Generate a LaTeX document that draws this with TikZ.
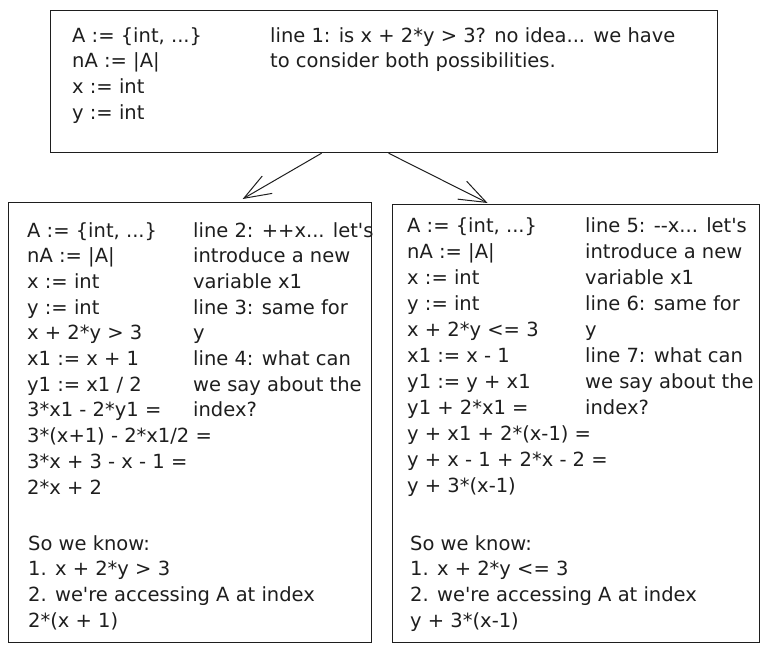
\documentclass[tikz,border=0pt]{standalone}
\usepackage{fontspec}
\newfontfamily\handfont{DejaVu Sans}[Ligatures=TeXOff]
\usetikzlibrary{arrows.meta}
\definecolor{ink}{HTML}{1E1E1E}
\newcommand\ddd{...}

\begin{document}
\begin{tikzpicture}[x=1pt,y=-1pt,
  frame/.style={draw=ink,line width=1.2pt,inner sep=0pt,anchor=north west},
  code/.style={anchor=base west,inner sep=0pt,text=ink,font=\handfont\fontsize{19.5}{24}\selectfont},
  flow/.style={draw=ink,line width=1pt,-{Straight Barb[length=27pt,width=20pt,line width=1pt]}}]
  \useasboundingbox (0,0) rectangle (770,651);
  \def\dy{25.7}
  % the three states
  \node[frame,minimum width=667pt,minimum height=142pt] (top) at (50,10) {};
  \node[frame,minimum width=363pt,minimum height=440pt] (left) at (8,202) {};
  \node[frame,minimum width=367pt,minimum height=438pt] (right) at (392,204) {};
  % top: the initial state
  \foreach \t [count=\n from 0] in {{A := \{int, \ddd\}},{nA := |A|},{x := int},{y := int}}
    \node[code] (top-a\n) at (72,42+\n*\dy) {\t};
  \foreach \t [count=\n from 0] in {{line 1: is x + 2*y > 3? no idea\ddd{} we have},{to consider both possibilities.}}
    \node[code] (top-b\n) at (270,42+\n*\dy) {\t};
  % left: the branch x + 2*y > 3
  \foreach \t [count=\n from 0] in {{A := \{int, \ddd\}},{nA := |A|},{x := int},{y := int},
      {x + 2*y > 3},{x1 := x + 1},{y1 := x1 / 2},{3*x1 - 2*y1 =},{3*(x+1) - 2*x1/2 =},
      {3*x + 3 - x - 1 =},{2*x + 2}}
    \node[code] (left-a\n) at (27,237+\n*\dy) {\t};
  \foreach \t [count=\n from 0] in {{line 2: ++x\ddd{} let's},{introduce a new},{variable x1},
      {line 3: same for},{y},{line 4: what can},{we say about the},{index?}}
    \node[code] (left-b\n) at (193,237+\n*\dy) {\t};
  \foreach \t [count=\n from 0] in {{So we know:},{1. x + 2*y > 3},{2. we're accessing A at index},{2*(x + 1)}}
    \node[code] (left-c\n) at (28,550+\n*\dy) {\t};
  % right: the branch x + 2*y <= 3
  \foreach \t [count=\n from 0] in {{A := \{int, \ddd\}},{nA := |A|},{x := int},{y := int},
      {x + 2*y <= 3},{x1 := x - 1},{y1 := y + x1},{y1 + 2*x1 =},{y + x1 + 2*(x-1) =},
      {y + x - 1 + 2*x - 2 =},{y + 3*(x-1)}}
    \node[code] (right-a\n) at (407,232+\n*26) {\t};
  \foreach \t [count=\n from 0] in {{line 5: --x\ddd{} let's},{introduce a new},{variable x1},
      {line 6: same for},{y},{line 7: what can},{we say about the},{index?}}
    \node[code] (right-b\n) at (585,232+\n*26) {\t};
  \foreach \t [count=\n from 0] in {{So we know:},{1. x + 2*y <= 3},{2. we're accessing A at index},{y + 3*(x-1)}}
    \node[code] (right-c\n) at (410,550+\n*\dy) {\t};
  % the two branches
  \draw[flow] ([xshift=-62.5pt]top.south) -- ([xshift=52.5pt,yshift=3pt]left.north);
  \draw[flow] ([xshift=4.5pt]top.south) -- ([xshift=-88.5pt,yshift=1pt]right.north);
\end{tikzpicture}
\end{document}
